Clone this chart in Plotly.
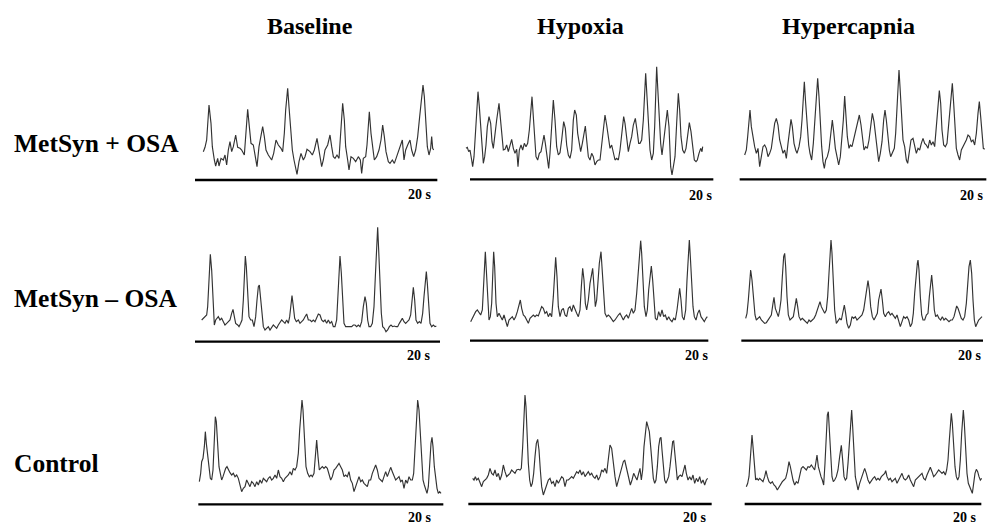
import plotly.graph_objects as go

# ---------------------------------------------------------------
# Digitized MSNA traces (reading units: 1/3 px; x from panel left,
# y from panel top). Converted below to time (s) and amplitude (a.u.).
# ---------------------------------------------------------------
groups = ["MetSyn + OSA", "MetSyn \u2013 OSA", "Control"]
conditions = ["Baseline", "Hypoxia", "Hypercapnia"]
scale_label = "20 s"
scale_seconds = 20

osa_baseline = [(25,275),(30,262),(35,240),(42,135),(48,190),(52,260),(58,300),(62,318),(68,295),(72,318),(78,295),(85,300),(90,285),(95,315),(100,270),(105,245),(110,275),(115,260),(122,225),(128,262),(135,265),(140,270),(148,285),(152,240),(158,148),(163,200),(168,250),(175,255),(180,285),(186,320),(192,260),(198,220),(203,200),(208,230),(213,270),(220,285),(225,295),(230,300),(236,280),(243,240),(250,255),(258,265),(263,275),(268,220),(272,150),(278,85),(282,140),(287,210),(292,270),(297,300),(303,330),(306,343),(312,305),(318,280),(325,300),(330,290),(336,268),(345,275),(352,285),(358,270),(366,235),(370,260),(375,295),(380,320),(385,300),(390,270),(398,255),(405,225),(410,260),(415,290),(420,295),(426,285),(432,295),(437,210),(443,130),(448,180),(452,260),(458,300),(462,330),(468,290),(475,295),(482,305),(490,290),(496,300),(500,340),(505,295),(512,290),(516,255),(520,200),(523,155),(528,220),(532,260),(538,300),(545,290),(552,270),(558,240),(563,195),(568,230),(573,275),(580,305),(585,310),(592,300),(598,310),(605,290),(612,270),(618,255),(622,240),(627,300),(632,270),(638,255),(645,240),(650,270),(656,290),(662,270),(668,230),(674,170),(680,120),(684,75),(688,110),(692,190),(697,260),(702,285),(707,265),(710,230),(713,265),(716,270)]

osa_hypoxia = [(18,265),(22,262),(26,275),(30,270),(35,300),(38,320),(42,290),(46,230),(50,150),(54,95),(58,140),(62,210),(66,270),(70,310),(74,290),(78,255),(82,200),(87,170),(92,190),(96,245),(100,265),(105,230),(110,180),(117,130),(122,185),(126,240),(130,270),(135,268),(140,255),(145,275),(150,255),(155,238),(160,265),(165,280),(170,268),(174,320),(178,270),(183,255),(188,270),(193,250),(198,260),(203,250),(208,210),(213,150),(216,110),(220,170),(224,240),(228,290),(233,300),(238,280),(243,275),(248,240),(252,225),(256,250),(262,290),(266,325),(270,280),(274,200),(280,120),(285,180),(290,260),(295,285),(300,278),(305,240),(311,185),(316,205),(320,255),(325,285),(330,295),(335,270),(340,180),(344,150),(349,165),(353,220),(358,260),(362,275),(367,250),(372,215),(376,198),(380,240),(385,290),(390,300),(395,280),(400,290),(405,315),(410,305),(415,300),(420,300),(425,255),(430,200),(435,165),(440,195),(445,240),(450,265),(455,255),(460,280),(465,300),(470,295),(475,300),(480,270),(486,215),(491,170),(495,190),(500,240),(505,275),(510,250),(515,230),(520,195),(526,175),(531,210),(536,250),(540,250),(545,240),(550,180),(553,120),(557,40),(561,110),(565,200),(570,270),(575,300),(580,280),(584,200),(587,90),(590,20),(593,80),(597,170),(602,250),(606,285),(611,245),(616,190),(622,150),(627,200),(632,320),(636,345),(640,325),(645,290),(650,190),(655,100),(659,150),(663,230),(668,270),(673,280),(678,265),(683,220),(688,188),(693,215),(698,270),(703,300),(708,305),(712,300),(717,280),(722,265),(726,275),(728,260)]

osa_hypercapnia = [(35,285),(40,270),(44,230),(48,180),(51,150),(55,200),(60,235),(65,260),(70,280),(75,265),(80,320),(85,290),(90,260),(95,255),(100,265),(105,290),(110,280),(115,265),(120,230),(125,190),(130,175),(135,195),(140,240),(145,260),(150,280),(155,270),(160,295),(165,250),(170,200),(174,178),(178,200),(183,250),(188,270),(192,280),(198,260),(203,230),(207,180),(211,120),(214,65),(218,130),(222,200),(227,255),(231,280),(236,300),(241,250),(246,180),(250,100),(254,55),(258,110),(262,200),(266,260),(270,305),(274,325),(278,300),(283,290),(288,270),(293,230),(298,180),(302,215),(307,265),(312,290),(317,315),(322,290),(327,240),(331,180),(335,108),(339,170),(343,230),(348,265),(352,255),(357,260),(362,240),(368,215),(374,185),(379,165),(384,195),(389,250),(393,270),(398,260),(403,265),(408,240),(413,200),(418,160),(423,185),(428,235),(433,280),(437,305),(442,280),(447,245),(452,180),(456,150),(460,180),(464,230),(469,270),(473,290),(478,280),(484,265),(488,220),(492,130),(496,60),(498,30),(501,80),(505,170),(510,240),(515,260),(520,300),(524,310),(529,270),(534,240),(540,235),(545,260),(550,280),(555,265),(560,270),(565,250),(570,235),(575,250),(580,255),(585,265),(590,240),(595,255),(600,245),(605,260),(610,200),(615,140),(619,92),(623,130),(627,210),(632,255),(637,260),(642,250),(647,200),(652,150),(658,70),(662,130),(666,210),(670,265),(675,285),(680,300),(685,270),(690,260),(695,245),(700,240),(705,225),(710,230),(715,245),(720,240),(725,255),(730,220),(735,160),(739,125),(743,170),(747,230),(751,265),(755,268)]

nosa_baseline = [(20,300),(25,295),(30,290),(35,285),(38,260),(41,180),(44,110),(46,103),(50,150),(54,260),(58,315),(62,300),(66,295),(70,290),(75,300),(80,295),(85,305),(90,315),(95,310),(100,305),(105,300),(110,280),(114,268),(118,290),(122,310),(128,315),(132,320),(137,310),(141,300),(145,240),(148,160),(151,108),(154,140),(158,240),(162,290),(167,300),(172,300),(177,320),(182,290),(186,240),(190,200),(193,195),(197,240),(201,290),(205,320),(210,330),(215,325),(220,320),(225,330),(230,320),(235,315),(240,320),(245,325),(250,315),(255,305),(260,300),(265,305),(270,310),(275,300),(280,310),(284,290),(288,250),(291,227),(295,260),(299,295),(304,305),(310,300),(315,310),(320,305),(325,300),(330,290),(335,282),(340,300),(345,300),(350,305),(355,300),(360,305),(365,290),(370,282),(375,285),(380,300),(385,305),(390,300),(395,310),(400,300),(405,310),(410,305),(415,320),(420,320),(425,300),(429,230),(432,150),(435,108),(439,160),(443,260),(447,310),(452,320),(458,320),(465,318),(470,320),(475,315),(480,315),(485,320),(490,315),(495,320),(500,305),(505,260),(510,230),(514,250),(518,300),(522,320),(527,320),(532,310),(537,260),(541,170),(545,80),(548,22),(551,90),(555,200),(559,280),(563,320),(568,325),(573,335),(578,330),(583,320),(588,315),(593,320),(598,318),(603,320),(608,320),(613,310),(618,300),(622,295),(627,305),(632,310),(637,305),(642,300),(647,285),(651,240),(655,202),(659,240),(663,300),(668,310),(673,305),(678,310),(683,280),(687,230),(691,170),(694,155),(697,190),(701,260),(705,310),(710,320),(715,315),(720,320),(724,318)]

nosa_hypoxia = [(32,305),(37,295),(42,285),(47,275),(52,270),(57,280),(62,285),(67,270),(70,220),(73,140),(76,95),(79,150),(83,250),(87,300),(91,290),(95,250),(98,170),(101,95),(104,140),(108,250),(112,290),(117,280),(122,290),(127,300),(132,285),(137,300),(142,320),(147,300),(152,295),(157,290),(162,300),(167,290),(172,275),(177,255),(181,240),(185,265),(190,285),(195,290),(200,300),(205,310),(210,295),(215,290),(220,285),(225,290),(230,285),(235,288),(240,275),(245,260),(250,265),(255,280),(260,275),(265,290),(270,280),(275,290),(280,230),(284,150),(287,112),(291,170),(295,260),(300,290),(305,270),(310,265),(315,285),(320,290),(325,265),(330,260),(335,275),(340,255),(345,265),(350,280),(355,290),(360,270),(364,200),(368,145),(372,180),(376,250),(380,270),(385,240),(390,190),(394,160),(398,145),(402,200),(406,260),(410,240),(414,180),(418,130),(423,95),(427,160),(431,250),(435,280),(440,290),(445,285),(450,290),(455,300),(460,305),(465,300),(470,290),(475,285),(480,280),(485,290),(490,300),(495,290),(500,285),(505,295),(510,280),(515,265),(520,280),(525,270),(530,220),(535,140),(539,80),(542,62),(545,100),(549,200),(553,260),(558,290),(562,270),(566,210),(570,160),(574,138),(578,180),(582,250),(586,295),(591,300),(596,275),(601,290),(606,270),(611,290),(616,285),(621,300),(626,290),(631,300),(636,305),(641,295),(646,300),(651,270),(655,230),(659,205),(663,240),(667,290),(672,300),(677,270),(681,180),(685,95),(688,60),(691,110),(695,200),(699,260),(703,290),(708,300),(713,280),(718,270),(723,290),(728,300),(733,305),(738,295),(742,290)]

nosa_hypercapnia = [(38,295),(42,280),(46,240),(50,180),(53,150),(57,180),(61,240),(66,285),(70,300),(75,295),(80,290),(85,300),(90,305),(95,310),(100,308),(105,300),(110,295),(115,285),(120,250),(123,232),(127,265),(131,280),(136,290),(140,270),(144,240),(148,170),(152,110),(155,100),(158,140),(162,230),(166,285),(171,300),(176,295),(181,290),(186,260),(190,235),(194,260),(198,290),(203,300),(208,295),(213,300),(218,305),(223,310),(228,300),(233,305),(238,300),(243,295),(248,285),(253,270),(258,255),(261,245),(265,260),(270,270),(275,280),(280,270),(284,230),(288,160),(291,90),(294,60),(297,100),(301,190),(305,270),(310,310),(315,300),(320,295),(325,300),(330,280),(334,255),(338,280),(342,310),(347,325),(352,315),(357,290),(362,295),(367,290),(372,300),(377,295),(382,290),(387,285),(392,270),(396,240),(400,210),(405,182),(409,210),(413,260),(418,290),(423,300),(428,290),(433,280),(437,240),(441,215),(444,207),(448,240),(452,280),(457,290),(462,280),(467,275),(472,285),(477,280),(482,290),(487,295),(492,285),(497,300),(502,320),(507,305),(512,290),(517,295),(522,290),(527,300),(532,320),(537,310),(541,280),(545,220),(549,160),(553,130),(555,120),(558,150),(562,230),(566,285),(570,300),(575,300),(580,285),(585,280),(589,230),(593,180),(596,165),(600,210),(604,270),(608,290),(613,285),(618,295),(623,300),(628,290),(633,300),(638,295),(643,300),(648,305),(653,300),(658,300),(663,290),(667,270),(671,258),(675,265),(680,280),(685,295),(690,300),(695,290),(700,250),(704,190),(708,140),(712,120),(716,160),(720,240),(724,300),(728,320),(732,310),(737,300),(742,295),(747,290)]

ctrl_baseline = [(13,305),(17,280),(20,245),(24,235),(28,200),(31,155),(34,190),(38,230),(42,250),(46,295),(50,300),(54,270),(58,180),(61,110),(64,125),(68,200),(72,260),(76,280),(80,300),(84,290),(88,275),(92,265),(96,260),(100,270),(105,278),(110,285),(115,280),(120,290),(125,285),(130,295),(135,320),(140,335),(145,325),(150,320),(155,300),(160,310),(165,320),(170,305),(175,310),(180,320),(185,305),(190,315),(195,300),(200,310),(205,295),(210,300),(215,305),(220,295),(225,290),(230,300),(235,295),(240,285),(245,295),(250,270),(255,290),(260,295),(265,305),(270,295),(275,290),(280,285),(285,275),(290,285),(295,265),(300,270),(305,260),(310,220),(314,150),(318,90),(321,60),(324,90),(328,180),(333,260),(338,280),(343,290),(348,285),(352,290),(357,280),(361,230),(365,180),(369,230),(373,270),(377,265),(382,260),(387,265),(392,260),(397,265),(402,280),(407,300),(412,290),(417,270),(422,265),(427,255),(432,250),(437,260),(442,270),(447,290),(452,285),(457,290),(462,275),(467,300),(472,310),(477,335),(482,320),(487,300),(492,290),(497,305),(502,300),(507,310),(512,315),(517,320),(522,300),(527,300),(532,280),(537,270),(542,255),(547,270),(552,295),(557,300),(562,305),(567,290),(572,275),(577,290),(582,275),(587,262),(592,275),(597,290),(602,300),(607,295),(612,290),(617,305),(622,300),(627,325),(632,300),(637,310),(642,290),(647,300),(652,300),(656,280),(660,200),(664,110),(668,60),(672,90),(676,170),(680,260),(684,300),(688,315),(692,330),(696,340),(700,320),(704,250),(708,190),(711,172),(714,200),(718,260),(722,300),(726,325),(730,340),(734,335),(738,340)]

ctrl_hypoxia = [(38,295),(42,300),(46,290),(50,300),(55,295),(60,310),(65,320),(70,305),(75,300),(80,295),(85,285),(90,265),(95,280),(100,285),(105,270),(110,290),(115,280),(120,300),(125,285),(130,255),(135,275),(140,290),(145,285),(150,280),(155,270),(160,275),(165,280),(170,270),(175,268),(180,270),(184,265),(188,200),(192,110),(195,45),(198,80),(201,160),(205,250),(209,300),(213,320),(217,310),(221,280),(225,230),(229,190),(233,178),(237,210),(241,270),(245,320),(250,345),(255,330),(260,310),(265,300),(270,295),(275,310),(280,305),(285,320),(290,300),(295,310),(300,300),(305,290),(310,295),(315,320),(320,300),(325,300),(330,295),(335,290),(340,295),(345,285),(350,275),(355,280),(360,270),(365,285),(370,275),(375,290),(380,280),(385,275),(390,285),(395,280),(400,290),(405,295),(410,285),(415,300),(420,290),(425,270),(430,275),(435,265),(440,280),(445,230),(450,195),(455,205),(460,250),(465,290),(470,320),(475,300),(480,280),(485,260),(490,245),(494,240),(498,260),(502,280),(506,300),(511,315),(516,300),(521,280),(526,290),(531,300),(536,280),(540,265),(544,300),(548,270),(552,200),(556,150),(560,125),(564,140),(568,155),(572,200),(576,260),(580,295),(584,310),(588,300),(592,260),(596,200),(600,175),(603,172),(606,210),(610,270),(614,300),(618,310),(622,300),(626,290),(630,260),(634,210),(638,185),(641,183),(644,220),(648,270),(652,300),(656,290),(661,285),(666,290),(671,270),(675,255),(679,280),(684,300),(689,290),(694,300),(699,285),(704,310),(709,295),(714,305),(719,290),(724,310),(729,300),(734,315),(739,300),(743,295)]

ctrl_hypercapnia = [(40,320),(44,310),(48,290),(51,240),(54,190),(57,165),(60,200),(64,260),(68,300),(72,295),(76,300),(80,295),(85,300),(90,305),(95,290),(99,272),(103,290),(108,305),(113,310),(118,305),(123,315),(128,320),(133,330),(138,320),(143,315),(148,305),(153,300),(158,295),(163,275),(168,245),(172,260),(176,285),(180,300),(185,315),(190,305),(195,310),(200,290),(205,265),(210,260),(215,265),(220,270),(225,260),(230,262),(235,255),(240,265),(245,270),(249,245),(252,225),(256,260),(260,280),(264,290),(268,300),(272,315),(276,250),(280,160),(283,105),(286,95),(289,140),(293,230),(297,290),(301,305),(305,300),(310,290),(315,270),(320,230),(325,196),(329,240),(333,290),(337,300),(341,295),(345,250),(350,180),(353,120),(356,90),(359,140),(363,240),(367,290),(371,310),(375,330),(380,310),(385,295),(390,285),(395,265),(400,280),(405,300),(410,310),(415,300),(420,295),(425,290),(430,300),(435,295),(440,300),(445,290),(450,285),(455,280),(458,272),(462,290),(467,300),(472,295),(477,305),(482,300),(487,295),(492,310),(497,300),(502,290),(507,280),(512,295),(517,300),(522,295),(527,285),(532,300),(537,310),(542,320),(547,300),(552,295),(557,290),(562,285),(567,280),(572,295),(577,300),(582,285),(587,270),(592,262),(597,275),(602,290),(607,285),(612,275),(617,270),(622,275),(627,280),(632,275),(637,285),(641,270),(645,240),(649,180),(652,120),(655,100),(658,130),(662,200),(666,260),(670,290),(674,300),(678,290),(682,240),(686,160),(689,110),(691,90),(694,130),(698,220),(702,280),(706,310),(710,320),(714,330),(718,340),(722,310),(726,280),(730,268),(734,275),(738,290),(742,300),(746,295)]

traces_grid = [
    [osa_baseline, osa_hypoxia, osa_hypercapnia],
    [nosa_baseline, nosa_hypoxia, nosa_hypercapnia],
    [ctrl_baseline, ctrl_hypoxia, ctrl_hypercapnia],
]

# ---------------- layout geometry (page pixels) ----------------
W, H = 987, 527
# panel box: left, top, width, height (page pixels)
panel_box = [
    [(195, 60, 250, 140), (460, 60, 255, 140), (733, 60, 254, 140)],
    [(195, 220, 250, 140), (460, 220, 255, 140), (733, 220, 254, 140)],
    [(195, 380, 250, 147), (460, 380, 255, 147), (733, 380, 254, 147)],
]
# scale bar in reading units: x start, x end, y
bar_pos = [
    [(0, 727, 360), (30, 760, 358), (20, 760, 358)],
    [(0, 735, 365), (30, 745, 362), (25, 750, 362)],
    [(10, 745, 373), (25, 755, 372), (35, 745, 372)],
]
# "20 s" label centre in reading units
lab_pos = [
    [(675, 402), (723, 405), (717, 405)],
    [(673, 406), (710, 406), (712, 406)],
    [(676, 412), (705, 411), (697, 411)],
]

SERIF = "Liberation Serif, Times New Roman, serif"
fig = go.Figure()
layout = dict(width=W, height=H, margin=dict(l=0, r=0, t=0, b=0, pad=0),
              paper_bgcolor="white", plot_bgcolor="rgba(0,0,0,0)",
              showlegend=False)
annotations = []


def px_x(x):
    return x / W


def px_y(y):
    return 1 - y / H


k = 0
for r in range(3):
    for c in range(3):
        k += 1
        ox, oy, pw, ph = panel_box[r][c]
        bx0, bx1, by = bar_pos[r][c]
        sec_per_unit = scale_seconds / (bx1 - bx0)
        pts = traces_grid[r][c]
        t = [(p[0] - bx0) * sec_per_unit for p in pts]
        a = [(by - p[1]) / 3.0 for p in pts]
        xa = "x" if k == 1 else f"x{k}"
        ya = "y" if k == 1 else f"y{k}"
        fig.add_trace(go.Scatter(x=t, y=a, mode="lines", xaxis=xa, yaxis=ya,
                                 line=dict(color="#333333", width=1.15),
                                 hoverinfo="skip"))
        # scale bar (0 .. 20 s)
        fig.add_trace(go.Scatter(x=[0, scale_seconds], y=[0, 0], mode="lines",
                                 xaxis=xa, yaxis=ya,
                                 line=dict(color="black", width=2.4),
                                 hoverinfo="skip"))
        xr = [(0 - bx0) * sec_per_unit, (3 * pw - bx0) * sec_per_unit]
        yr = [(by - 3 * ph) / 3.0, by / 3.0]
        axname = "xaxis" if k == 1 else f"xaxis{k}"
        ayname = "yaxis" if k == 1 else f"yaxis{k}"
        layout[axname] = dict(domain=[max(0, px_x(ox)), min(1, px_x(ox + pw))],
                              range=xr, visible=False, fixedrange=True, anchor=ya)
        layout[ayname] = dict(domain=[max(0, px_y(oy + ph)), min(1, px_y(oy))],
                              range=yr, visible=False, fixedrange=True, anchor=xa)
        lx, ly = lab_pos[r][c]
        annotations.append(dict(x=(lx - bx0) * sec_per_unit, y=(by - ly) / 3.0,
                                xref=xa, yref=ya, text=f"<b>{scale_label}</b>",
                                showarrow=False, xanchor="center", yanchor="middle",
                                font=dict(family=SERIF, size=14, color="black")))

# column titles
title_x = [310, 580, 848]
for cx, name in zip(title_x, conditions):
    annotations.append(dict(x=px_x(cx), y=px_y(26), xref="paper", yref="paper",
                            text=f"<b>{name}</b>", showarrow=False,
                            xanchor="center", yanchor="middle",
                            font=dict(family=SERIF, size=24, color="black")))
# row labels
row_y = [143, 298, 463]
for ry, name in zip(row_y, groups):
    annotations.append(dict(x=px_x(12), y=px_y(ry), xref="paper", yref="paper",
                            text=f"<b>{name}</b>", showarrow=False,
                            xanchor="left", yanchor="middle",
                            font=dict(family=SERIF, size=25.5, color="black")))

layout["annotations"] = annotations
fig.update_layout(**layout)
fig.write_html("out.html",
               config={"displayModeBar": False, "staticPlot": True},
               post_script="document.body.style.margin='0px';"
                           "document.body.style.overflow='hidden';")
